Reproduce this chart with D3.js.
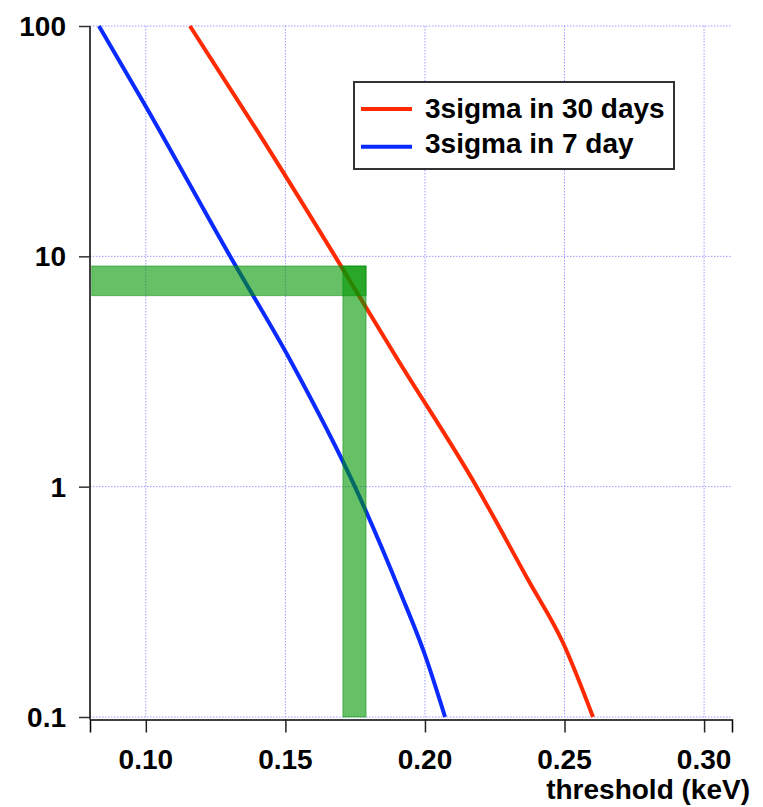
<!DOCTYPE html>
<html><head><meta charset="utf-8">
<script src="https://cdn.jsdelivr.net/npm/d3@7"></script>
<style>body{margin:0;background:#fff}svg{display:block}text{font-family:"Liberation Sans",Arial,sans-serif;font-weight:bold;fill:#000}</style>
</head><body>
<script>
// ---- data ----
const thr30 = [0.1158,0.1397,0.1678,0.1899,0.2185,0.2370,0.2495,0.2602];
const rate30 = [100,35.4,10,3.62,1.0,0.393,0.2095,0.1];
const thr7 = [0.0832,0.0997,0.1302,0.1517,0.1749,0.1911,0.2000,0.2072];
const rate7 = [100,45.4,10,3.55,1.0,0.349,0.186,0.1];
const seriesNames = ["3sigma in 30 days","3sigma in 7 day"];
const seriesColors = ["#ff2a00","#0a2aff"];
const xMajorTicks = [0.10,0.15,0.20,0.25,0.30];
const xTickLabels = ["0.10","0.15","0.20","0.25","0.30"];
const yTicks = [0.1,1,10,100];
const yTickLabels = ["0.1","1","10","100"];
const bandH = {x0:0.0806, x1:0.1789, y0:6.75, y1:9.08};
const bandV = {x0:0.1706, x1:0.1789, y0:0.1, y1:9.08};
const xTitle = "threshold (keV)";

const W=763,H=807;
const svg=d3.select("body").append("svg").attr("width",W).attr("height",H);
svg.append("rect").attr("width",W).attr("height",H).attr("fill","#fff");

const x=d3.scaleLinear().domain([0.08,0.31]).range([90,732]);
const y=d3.scaleLog().domain([0.1,100]).range([717,26]);
const axisY=719.5;

// grid
const g=svg.append("g");
g.selectAll("line.vg").data(xMajorTicks).join("line")
 .attr("x1",d=>x(d)).attr("x2",d=>x(d)).attr("y1",y(100)).attr("y2",y(0.1))
 .attr("stroke","#9c9cff").attr("stroke-width",1).attr("stroke-dasharray","1.5,1.5");
g.selectAll("line.hg").data(yTicks).join("line")
 .attr("x1",x(0.08)).attr("x2",x(0.31)).attr("y1",d=>y(d)).attr("y2",d=>y(d))
 .attr("stroke","#9c9cff").attr("stroke-width",1).attr("stroke-dasharray","1.5,1.5");

// curves
const line=d3.line().x(d=>x(d[0])).y(d=>y(d[1])).curve(d3.curveMonotoneX);
[[thr30,rate30],[thr7,rate7]].forEach((s,i)=>{
  svg.append("path").datum(d3.zip(s[0],s[1])).attr("d",line)
   .attr("fill","none").attr("stroke",seriesColors[i]).attr("stroke-width",4);
});

// green bands
[bandH,bandV].forEach(b=>{
  svg.append("rect").attr("x",x(b.x0)).attr("y",y(b.y1))
   .attr("width",x(b.x1)-x(b.x0)).attr("height",y(b.y0)-y(b.y1))
   .attr("fill","rgba(0,150,0,0.6)").attr("stroke","rgba(0,140,0,0.5)").attr("stroke-width",1);
});

// x axis
const xa=svg.append("g").attr("transform",`translate(0,${axisY})`);
xa.call(d3.axisBottom(x).tickValues(d3.range(8,32).map(v=>v/100)).tickSize(7).tickFormat(""));
xa.call(d3.axisBottom(x).tickValues(xMajorTicks).tickSize(13).tickFormat(""));
xa.selectAll("path.domain").attr("stroke","#000").attr("stroke-width",1.5);
xa.selectAll(".tick line").attr("stroke","#222").attr("stroke-width",1.5);
svg.selectAll("text.xl").data(xMajorTicks).join("text").attr("class","xl")
 .attr("x",d=>x(d)).attr("y",769).attr("text-anchor","middle").attr("font-size",28)
 .text((d,i)=>xTickLabels[i]);
svg.append("text").attr("x",750).attr("y",799).attr("text-anchor","end").attr("font-size",28).text(xTitle);

// y axis
const ya=svg.append("g").attr("transform","translate(90,0)");
ya.call(d3.axisLeft(y).tickValues(yTicks).tickSize(11).tickFormat(""));
ya.select("path.domain").attr("d",`M0,${y(100)}V${axisY}`).attr("stroke","#000").attr("stroke-width",1.5);
ya.selectAll(".tick line").attr("stroke","#333").attr("stroke-width",1.5);
svg.selectAll("text.yl").data(yTicks).join("text").attr("class","yl")
 .attr("x",66).attr("y",d=>y(d)+10).attr("text-anchor","end").attr("font-size",28)
 .text((d,i)=>yTickLabels[i]);

// legend
const lg=svg.append("g");
lg.append("rect").attr("x",354).attr("y",82).attr("width",320).attr("height",87)
 .attr("fill","#fff").attr("stroke","#333").attr("stroke-width",2);
seriesNames.forEach((n,i)=>{
  const yy=109+i*37.7;
  lg.append("line").attr("x1",361).attr("x2",412).attr("y1",yy).attr("y2",yy)
   .attr("stroke",seriesColors[i]).attr("stroke-width",4);
  lg.append("text").attr("x",425).attr("y",118+i*35.3).attr("font-size",28).text(n);
});
</script>
</body></html>
